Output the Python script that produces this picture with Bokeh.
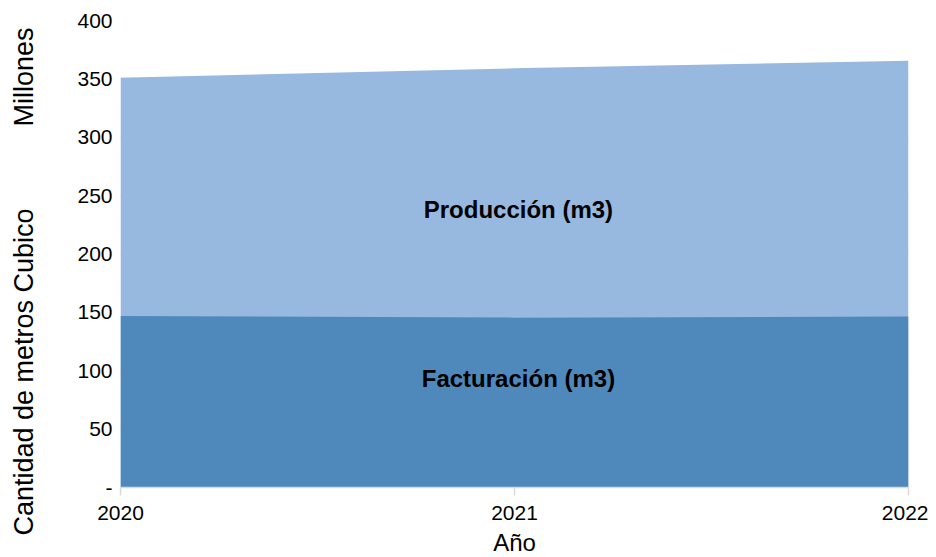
from bokeh.plotting import figure
from bokeh.layouts import row
from bokeh.models import ColumnDataSource, Range1d, FixedTicker, Label, Div
from bokeh.embed import file_html
from bokeh.resources import INLINE

years = [2020, 2021, 2022]
produccion = [351, 359, 365.5]
facturacion = [147, 145.5, 146.5]
y_ticks = [0, 50, 100, 150, 200, 250, 300, 350, 400]
y_tick_labels = {0: "-"}
series_names = ["Producción (m3)", "Facturación (m3)"]
y_titles = ["Millones", "Cantidad de metros Cubico"]

FONT = "Liberation Sans"
LIGHT = "#97B8DF"
DARK = "#4F89BC"

H = 549
SIDE_W = 45

# ---- narrow side column holding the vertical y-axis titles ----
title_pos = [77, 372]  # vertical centres, px from top
spans = "".join(
    f'<span style="position:absolute;left:24px;top:{yc}px;'
    f'transform:translate(-50%,-50%) rotate(-90deg);white-space:nowrap;'
    f"font-family:'{FONT}';font-size:27px;color:black;line-height:1;\">{t}</span>"
    for t, yc in zip(y_titles, title_pos)
)
side = Div(text=f'<div style="position:relative;width:{SIDE_W}px;height:{H}px;">{spans}</div>',
           width=SIDE_W, height=H, margin=0)

# ---- main chart ----
src = ColumnDataSource(dict(x=years, prod=produccion, fact=facturacion,
                            zero=[0] * len(years)))

p = figure(width=928 - SIDE_W, height=H, frame_width=788, frame_height=467,
           output_backend="svg", toolbar_location=None,
           x_range=Range1d(2020, 2022), y_range=Range1d(0, 400),
           min_border_left=120 - SIDE_W, min_border_right=20,
           min_border_top=20, min_border_bottom=62, margin=0)
p.outline_line_color = None
p.background_fill_color = "white"

p.varea(x="x", y1="zero", y2="prod", source=src, fill_color=LIGHT)
p.varea(x="x", y1="zero", y2="fact", source=src, fill_color=DARK)

p.xgrid.visible = False
p.ygrid.grid_line_color = "#D9D9D9"
p.ygrid.grid_line_width = 1.5
p.ygrid.ticker = FixedTicker(ticks=y_ticks)

ya = p.yaxis[0]
ya.ticker = FixedTicker(ticks=y_ticks)
ya.major_label_overrides = y_tick_labels
ya.axis_line_color = None
ya.major_tick_line_color = None
ya.minor_tick_line_color = None
ya.major_tick_out = 0
ya.major_tick_in = 0
ya.major_label_standoff = 8
ya.major_label_text_font = FONT
ya.major_label_text_font_size = "21px"
ya.major_label_text_color = "black"

xa = p.xaxis[0]
xa.ticker = FixedTicker(ticks=years)
xa.major_label_overrides = {y: str(y) for y in years}
xa.axis_line_color = "#D9D9D9"
xa.axis_line_width = 1.5
xa.major_tick_line_color = "#D9D9D9"
xa.major_tick_line_width = 1.5
xa.major_tick_out = 8
xa.major_tick_in = 0
xa.minor_tick_line_color = None
xa.major_label_standoff = 10
xa.major_label_text_font = FONT
xa.major_label_text_font_size = "21px"
xa.major_label_text_color = "black"
xa.axis_label = "Año"
xa.axis_label_text_font = FONT
xa.axis_label_text_font_size = "24px"
xa.axis_label_text_font_style = "normal"
xa.axis_label_text_color = "black"
xa.axis_label_standoff = 6

p.add_layout(Label(x=2021.01, y=238, text=series_names[0], text_font=FONT,
                   text_font_size="24px", text_font_style="bold",
                   text_align="center", text_baseline="middle", text_color="black"))
p.add_layout(Label(x=2021.01, y=93, text=series_names[1], text_font=FONT,
                   text_font_size="24px", text_font_style="bold",
                   text_align="center", text_baseline="middle", text_color="black"))

layout = row(side, p, spacing=0)
open("out.html", "w").write(file_html(layout, INLINE))
